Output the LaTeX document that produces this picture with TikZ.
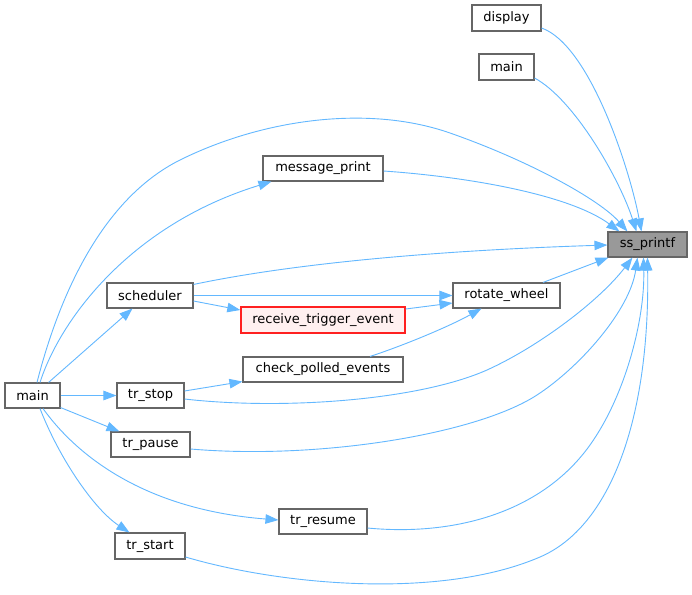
\documentclass[tikz,border=0pt]{standalone}
\usepackage{fontspec}
\setmainfont{DejaVu Sans}
\usetikzlibrary{arrows.meta,calc}
\definecolor{edgeblue}{HTML}{63B8FF}
\definecolor{nodeborder}{HTML}{666666}
\definecolor{focusfill}{HTML}{999999}
\definecolor{truncfill}{HTML}{FFF0F0}
\definecolor{truncborder}{HTML}{FF2020}
\begin{document}
\begin{tikzpicture}[x=1pt,y=-1pt,
  fn/.style={draw=nodeborder, line width=1.1pt, fill=white, inner sep=0pt,
    minimum height=25pt, font=\fontsize{13}{15}\selectfont},
  focus/.style={fn, fill=focusfill},
  trunc/.style={fn, draw=truncborder, line width=1.4pt, fill=truncfill},
  call/.style={draw=edgeblue, line width=0.9pt, -{Triangle[length=13pt,width=9.5pt]}}]
\fill[white] (0,0) rectangle (692,594);
\useasboundingbox (0,0) rectangle (692,594);

% nodes
\node[focus, minimum width=79pt] (ss) at (647.5,244.5) {ss\_printf};
\node[fn, minimum width=69pt, minimum height=26pt] (display) at (506.5,18) {display};
\node[fn, minimum width=55pt, minimum height=26pt] (mainT) at (506.5,67) {main};
\node[fn, minimum width=107pt] (rw) at (506.5,295.5) {rotate\_wheel};
\node[fn, minimum width=120pt] (mp) at (323,168.5) {message\_print};
\node[fn, minimum width=86pt] (sch) at (150,295.5) {scheduler};
\node[trunc, minimum width=164pt, minimum height=26pt] (rte) at (323,320) {receive\_trigger\_event};
\node[fn, minimum width=160pt] (cpe) at (323,369.5) {check\_polled\_events};
\node[fn, minimum width=55pt] (mainL) at (32.5,395.5) {main};
\node[fn, minimum width=67pt] (trstop) at (150.5,395.5) {tr\_stop};
\node[fn, minimum width=79pt] (trpause) at (150.5,444.5) {tr\_pause};
\node[fn, minimum width=88pt] (trresume) at (323,521.5) {tr\_resume};
\node[fn, minimum width=70pt, minimum height=26pt] (trstart) at (150,546) {tr\_start};

% edges into ss_printf
\draw[call] ($(display.east)+(0,10)$) .. controls (590,45) and (630,170) .. ($(ss.north west)+(34,0)$);
\draw[call] ($(mainT.east)+(0,11)$) .. controls (575,100) and (620,180) .. ($(ss.north west)+(29,0)$);
\draw[call] ($(mainL.north)+(4.5,0)$) .. controls (58,300) and (100,200) .. (180,160)
  .. controls (265,118) and (370,105) .. (450,133)
  .. controls (530,161) and (600,200) .. ($(ss.north west)+(20,0)$);
\draw[call] ($(mp.east)+(0,2.5)$) .. controls (470,177) and (570,195) .. ($(ss.north west)+(12,0)$);
\draw[call] ($(sch.north east)+(0,2)$) .. controls (300,262) and (450,250) .. ($(ss.west)+(0,0.5)$);
\draw[call] ($(rw.north)+(36.5,0)$) -- ($(ss.south west)+(1,0)$);
\draw[call] ($(trstop.east)+(0,3.5)$) .. controls (280,410) and (417,401) .. (487,370)
  .. controls (540,346) and (600,300) .. ($(ss.south west)+(25,0)$);
\draw[call] ($(trpause.east)+(0,4.5)$) .. controls (320,460) and (477,434) .. (537,395)
  .. controls (580,367) and (630,310) .. ($(ss.south west)+(30,0)$);
\draw[call] ($(trresume.east)+(0,6.5)$) .. controls (450,536) and (540,515) .. (590,445)
  .. controls (625,396) and (645,320) .. ($(ss.south west)+(36,0)$);
\draw[call] ($(trstart.east)+(0,11)$) .. controls (280,585) and (440,600) .. (540,557)
  .. controls (610,527) and (650,420) .. ($(ss.south west)+(40,0)$);

% edges from main (left)
\draw[call] ($(mainL.north)+(7.5,0)$) .. controls (60,320) and (130,225) .. ($(mp.south west)+(9,0)$);
\draw[call] ($(mainL.north east)+(-12,0)$) -- ($(sch.south west)+(26,0)$);
\draw[call] (mainL.east) -- (trstop.west);
\draw[call] ($(mainL.south east)+(0,-1)$) -- ($(trpause.north west)+(9,0)$);
\draw[call] ($(mainL.south)+(10.5,0)$) .. controls (80,460) and (150,510) .. ($(trresume.west)+(0,-1.5)$);
\draw[call] ($(mainL.south)+(7.5,0)$) .. controls (60,460) and (95,510) .. ($(trstart.north west)+(15,0)$);

% other edges
\draw[call] (sch.east) -- (rw.west);
\draw[call] ($(sch.east)+(0,5.5)$) -- ($(rte.west)+(0,-10)$);
\draw[call] ($(rte.east)+(0,-11)$) -- ($(rw.west)+(0,7.5)$);
\draw[call] ($(cpe.north)+(47,0)$) .. controls (405,345) and (450,326) .. ($(rw.south west)+(29,0)$);
\draw[call] ($(trstop.east)+(0,-4.5)$) -- ($(cpe.south west)+(0,-1)$);
\end{tikzpicture}
\end{document}
